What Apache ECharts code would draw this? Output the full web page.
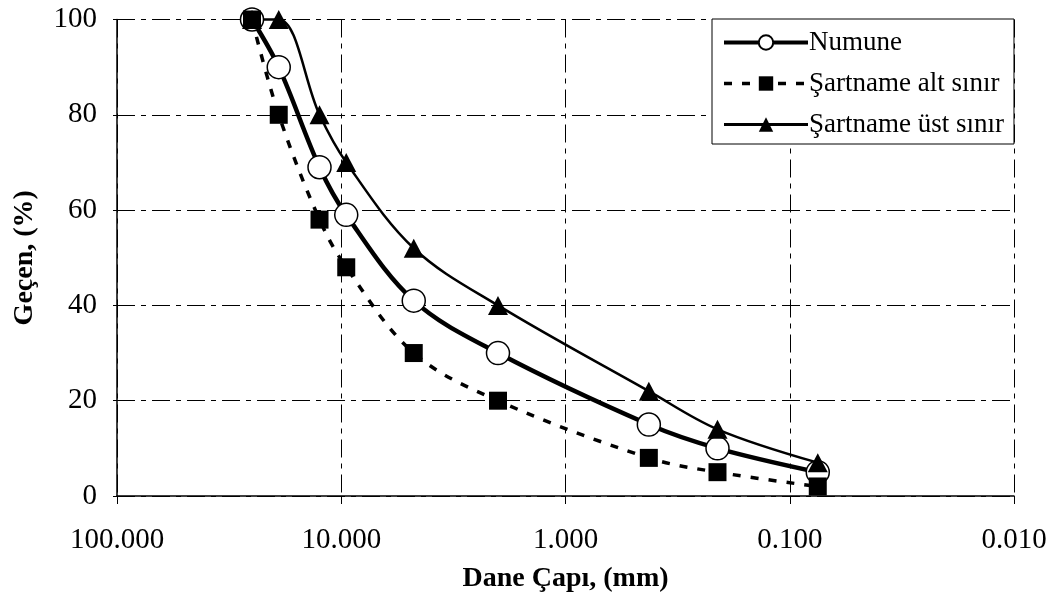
<!DOCTYPE html>
<html>
<head>
<meta charset="utf-8">
<title>Dane Çapı</title>
<script src="https://cdn.jsdelivr.net/npm/echarts@6/dist/echarts.min.js"></script>
<style>
  html, body { margin: 0; padding: 0; background: #fff; }
  #main { width: 1051px; height: 598px; }
</style>
</head>
<body>
<div id="main"></div>
<script>
// elek boyutlari (mm) ve gecen yuzdeler
var sizes = [25, 19, 12.5, 9.5, 4.75, 2, 0.425, 0.21, 0.075];
var numune = [100, 90, 69, 59, 41, 30, 15, 10, 5];
var altSinir = [100, 80, 58, 48, 30, 20, 8, 5, 2];
var ustSinir = [100, 100, 80, 70, 52, 40, 22, 14, 7];

var font = 'Liberation Serif';
var gridDash = [18, 6, 5, 6];

function pairs(ys){
	var out = [];
	for(var i=0;i<sizes.length;i++){
		out.push([sizes[i], ys[i]]);
	}
	return out;
}

var chart = echarts.init(document.getElementById('main'));
var option = {
	animation: false,
	backgroundColor: '#fff',
	grid: {
		left: 117,
		right: 37,
		top: 19.5,
		bottom: 102
	},
	legend: {
		orient: 'vertical',
		left: 712,
		top: 19,
		padding: [10, 10, 6, 10],
		itemGap: 14,
		itemWidth: 84,
		itemHeight: 18,
		backgroundColor: '#fff',
		borderColor: '#000',
		borderWidth: 1,
		borderRadius: 0,
		textStyle: {
			fontFamily: font,
			fontSize: 27,
			color: '#000',
			padding: [0, 0, 0, -4]
		},
		data: [
			{ name: 'Numune', lineStyle: { width: 4 } },
			{ name: 'Şartname alt sınır', lineStyle: { width: 3.5 } },
			{ name: 'Şartname üst sınır', lineStyle: { width: 3 } }
		]
	},
	xAxis: {
		type: 'log',
		logBase: 10,
		min: 0.01,
		max: 100,
		inverse: true,
		name: 'Dane Çapı, (mm)',
		nameLocation: 'middle',
		nameGap: 69,
		nameTextStyle: {
			fontFamily: font,
			fontSize: 28,
			fontWeight: 'bold',
			color: '#000'
		},
		axisLine: { show: true, lineStyle: { color: '#000', width: 1.5 } },
		axisTick: { show: true, inside: false, length: 8, lineStyle: { color: '#000' } },
		axisLabel: {
			fontFamily: font,
			fontSize: 29,
			color: '#000',
			margin: 30,
			formatter: function(v){ return v.toFixed(3); }
		},
		splitLine: {
			show: true,
			lineStyle: { color: '#000', width: 1, type: gridDash }
		}
	},
	yAxis: {
		type: 'value',
		min: 0,
		max: 100,
		interval: 20,
		name: 'Geçen, (%)',
		nameLocation: 'middle',
		nameGap: 78,
		nameTextStyle: {
			fontFamily: font,
			fontSize: 28,
			fontWeight: 'bold',
			color: '#000'
		},
		axisLine: { show: true, lineStyle: { color: '#000', width: 1.5 } },
		axisTick: { show: true, inside: false, length: 4, lineStyle: { color: '#000' } },
		axisLabel: {
			fontFamily: font,
			fontSize: 29,
			color: '#000',
			margin: 20
		},
		splitLine: {
			show: true,
			lineStyle: { color: '#000', width: 1, type: gridDash }
		}
	},
	series: [
		{
			name: 'Numune',
			type: 'line',
			smooth: 0.35,
			clip: false,
			symbol: 'circle',
			symbolSize: 23,
			lineStyle: { color: '#000', width: 4.5 },
			itemStyle: { color: '#fff', borderColor: '#000', borderWidth: 1.5 },
			data: pairs(numune)
		},
		{
			name: 'Şartname alt sınır',
			type: 'line',
			smooth: 0.35,
			clip: false,
			symbol: 'rect',
			symbolSize: 18,
			lineStyle: { color: '#000', width: 3.5, type: [8, 10] },
			itemStyle: { color: '#000' },
			data: pairs(altSinir)
		},
		{
			name: 'Şartname üst sınır',
			type: 'line',
			smooth: 0.35,
			clip: false,
			symbol: 'triangle',
			symbolSize: [20, 19],
			lineStyle: { color: '#000', width: 2.5 },
			itemStyle: { color: '#000' },
			data: pairs(ustSinir)
		}
	]
};
chart.setOption(option);
</script>
</body>
</html>
